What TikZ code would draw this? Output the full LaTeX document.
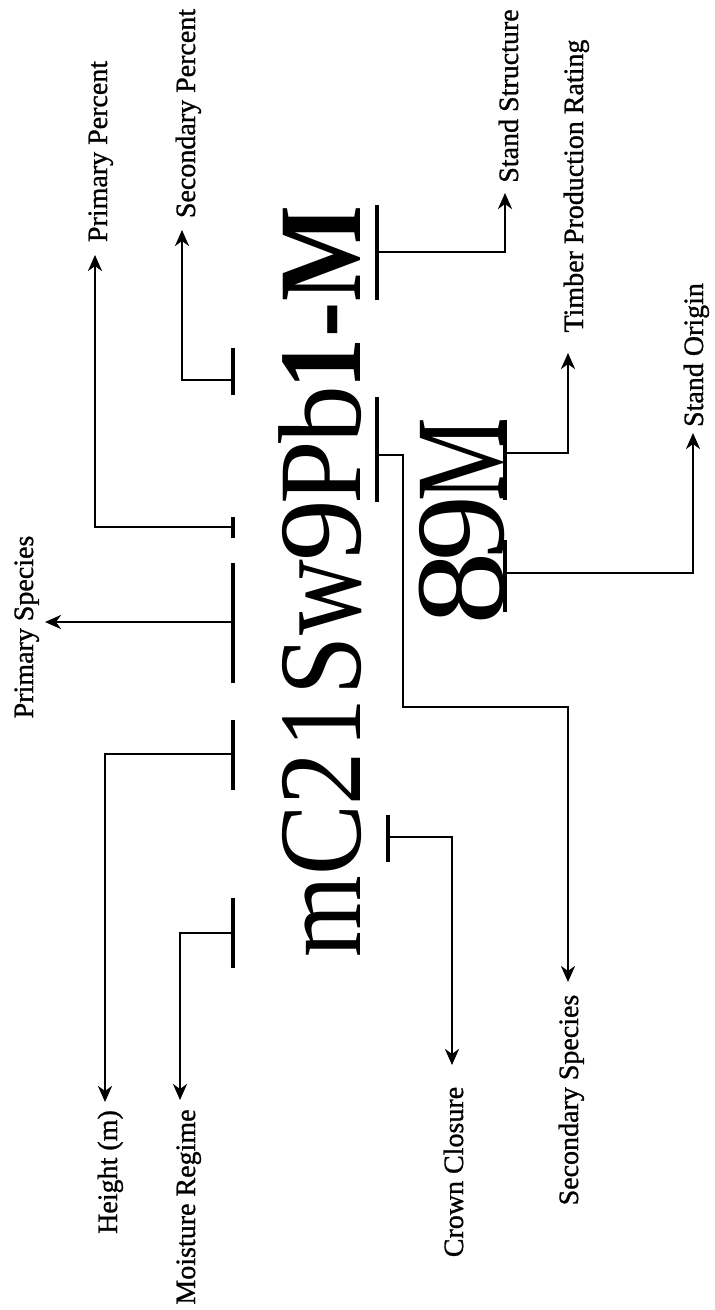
\documentclass[tikz,border=0pt]{standalone}
\usepackage{fontspec}
\usepackage{graphicx}
\setmainfont{Liberation Serif}
\newfontfamily\labfont{Liberation Serif}[FakeBold=1]
\usetikzlibrary{arrows.meta}
\begin{document}
\begin{tikzpicture}[x=1pt,y=-1pt,
  conn/.style={line width=2.7pt, -{Stealth[length=16pt,width=14pt,inset=5pt]}},
  bar/.style={line width=3.8pt},
  lab/.style={rotate=90, anchor=base, inner sep=0pt, font=\labfont\fontsize{28}{30}\selectfont},
  big/.style={rotate=90, anchor=base, inner sep=0pt, font=\fontsize{118}{118}\selectfont},
  bigb/.style={rotate=90, anchor=base, inner sep=0pt, font=\fontsize{118}{118}\selectfont\bfseries},
  bigtwo/.style={rotate=90, anchor=base, inner sep=0pt, font=\fontsize{127}{127}\selectfont}]
\useasboundingbox (0,0) rectangle (715,1310);

% main code, line 1 (baseline x=360)
\node[big]  (m)  at (360,917)   {\scalebox{0.89}[1]{m}};
\node[big]  (C)  at (360,840)   {\scalebox{0.9}[1]{C}};
\node[big]  (d2) at (360,778.5) {\scalebox{0.9}[1]{2}};
\node[big]  (d1) at (360,723.5) {\scalebox{0.82}[1]{1}};
\node[big]  (S)  at (360,666)   {\scalebox{0.9}[1]{S}};
\node[big]  (w)  at (360,597.5) {\scalebox{0.89}[1.12]{w}};
\node[big]  (d9) at (360,530.5) {\scalebox{1.05}[1]{9}};
\node[big]  (P)  at (360,473)   {\scalebox{0.97}[1]{P}};
\node[big]  (b)  at (360,415)   {\scalebox{0.98}[1]{b}};
\node[bigb] (e1) at (360,363.5) {\scalebox{0.87}[1]{1}};
\node[bigb] (hy) at (360,320)   {\scalebox{0.9}[1]{-}};
\node[bigb] (M)  at (360,254)   {\scalebox{0.86}[1]{M}};

% main code, line 2 (baseline x=503)
\node[bigtwo] (n8) at (503,588.5) {\scalebox{1.16}[1]{8}};
\node[bigtwo] (n9) at (503,528.5) {\scalebox{1.04}[1]{9}};
\node[bigtwo] (nM) at (503,460)   {\scalebox{0.74}[1]{M}};

% labels
\node[lab] (lPP)  at (107,151.5) {Primary Percent};
\node[lab] (lSP)  at (195,113.5) {Secondary Percent};
\node[lab] (lSS)  at (518,96)    {Stand Structure};
\node[lab] (lTPR) at (583,186)   {Timber Production Rating};
\node[lab] (lSO)  at (703,355)   {Stand Origin};
\node[lab] (lPS)  at (33,627)    {Primary Species};
\node[lab] (lH)   at (117,1172)  {Height (m)};
\node[lab] (lMR)  at (195,1207)  {Moisture Regime};
\node[lab] (lCC)  at (463,1172)  {Crown Closure};
\node[lab] (lSec) at (578,1100)  {Secondary Species};

% overlines (x=233)
\draw[bar] (233,898) -- (233,968);
\draw[bar] (233,720) -- (233,790);
\draw[bar] (233,563) -- (233,683);
\draw[bar] (233,517) -- (233,538);
\draw[bar] (233,348) -- (233,395);
% underlines line 1
\draw[bar] (377,397) -- (377,502);
\draw[bar] (377,205) -- (377,300);
\draw[bar] (388,815) -- (388,862);
% underlines line 2
\draw[bar] (505,420) -- (505,500);
\draw[bar] (505,540) -- (505,612);

% connector start points
\coordinate (oMR) at (233,933);
\coordinate (oH)  at (233,754);
\coordinate (oPS) at (233,622);
\coordinate (oPP) at (233,527);
\coordinate (oSP) at (233,380);
\coordinate (uM)  at (377,252);
\coordinate (uPb) at (377,455);
\coordinate (uC)  at (388,837);
\coordinate (uM2) at (505,453);
\coordinate (u89) at (505,573);
% arrow tips
\coordinate (tMR)  at (180,1100);
\coordinate (tH)   at (105,1102);
\coordinate (tPS)  at (45,622);
\coordinate (tPP)  at (95,255);
\coordinate (tSP)  at (182,230);
\coordinate (tSS)  at (505,193);
\coordinate (tTPR) at (568,353);
\coordinate (tSO)  at (693,433);
\coordinate (tSec) at (568,982);
\coordinate (tCC)  at (452,1065);
\coordinate (k1) at (403,455);
\coordinate (k2) at (403,707);
\coordinate (k3) at (568,707);

\draw[conn] (oMR) -| (tMR);
\draw[conn] (oH)  -| (tH);
\draw[conn] (oPS) -- (tPS);
\draw[conn] (oPP) -| (tPP);
\draw[conn] (oSP) -| (tSP);
\draw[conn] (uM)  -| (tSS);
\draw[conn] (uM2) -| (tTPR);
\draw[conn] (u89) -| (tSO);
\draw[conn] (uPb) -- (k1) -- (k2) -- (k3) -- (tSec);
\draw[conn] (uC)  -| (tCC);
\end{tikzpicture}
\end{document}
